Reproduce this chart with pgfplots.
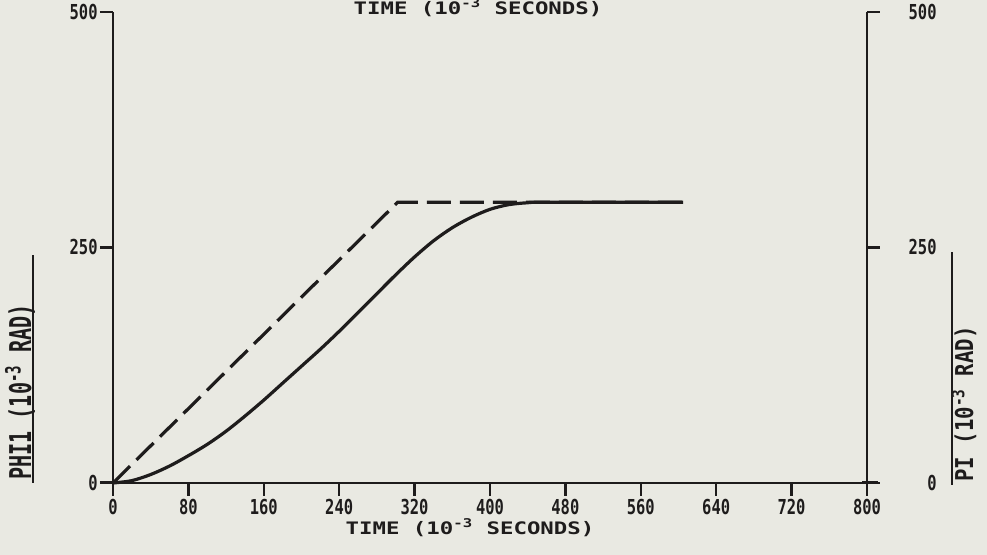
\documentclass[border=0pt]{standalone}
\usepackage{fontspec}
\setmainfont{DejaVu Sans}
\newfontfamily\tickf{DejaVu Sans Mono}[FakeStretch=0.75]
\newfontfamily\axf{DejaVu Sans Mono}[FakeStretch=1.3]
\newfontfamily\ylfA{DejaVu Sans Mono}[FakeStretch=0.67]
\newfontfamily\ylfB{DejaVu Sans Mono}[FakeStretch=0.84]
\usepackage{pgfplots}
\pgfplotsset{compat=1.18}
\definecolor{bg}{RGB}{233,233,226}
\definecolor{ink}{RGB}{30,28,28}
\begin{document}
\begin{tikzpicture}
\fill[bg] (-56.5pt,-36pt) rectangle (437pt,241.5pt);
\begin{axis}[
  at={(0pt,0pt)}, anchor=south west,
  scale only axis, width=377pt, height=235.5pt,
  xmin=0, xmax=800, ymin=0, ymax=500,
  axis x line*=bottom, axis y line*=left,
  axis line style={-, ink, line width=1.3pt},
  xtick={0,80,...,800}, ytick={0,250,500},
  tick align=outside, major tick length=6.5pt,
  tick style={ink, line width=1.2pt},
  /pgf/number format/assume math mode=true,
  tick label style={font=\tickf\bfseries\fontsize{10.3}{12}\selectfont, text=ink},
  xticklabel style={inner sep=1.5pt},
  yticklabel style={inner sep=1pt},
  clip=false,
]
\addplot[ink, line width=1.6pt, dash pattern=on 12pt off 4.5pt] coordinates {(0,0) (302,298) (605,298)};
\addplot[ink, line width=1.6pt, smooth] coordinates {
(0,0)(20,2.5)(40,9)(60,18)(80,29)(100,41)(120,55)(140,71)(160,88)(180,106)
(200,124)(220,142)(240,161)(260,181)(280,201)(300,221)(320,240)(340,257)
(360,271)(380,282)(400,290.5)(420,295.5)(440,297.5)(460,298)(605,298)};
\draw[ink, line width=1.5pt] (axis cs:795,0) -- (axis cs:812,0);
\draw[ink, line width=1.5pt] (axis cs:-14,0) -- (axis cs:5,0);
\end{axis}
\begin{axis}[
  at={(0pt,0pt)}, anchor=south west,
  scale only axis, width=377pt, height=235.5pt,
  xmin=0, xmax=800, ymin=0, ymax=500,
  axis y line*=right, axis x line=none,
  axis line style={-, ink, line width=1.3pt},
  ytick={0,250,500},
  tick align=outside, major tick length=6.5pt,
  tick style={ink, line width=1.2pt},
  /pgf/number format/assume math mode=true,
  tick label style={font=\tickf\bfseries\fontsize{10.3}{12}\selectfont, text=ink},
  yticklabel style={anchor=east, xshift=29.5pt, inner sep=1pt},
  clip=false,
]
\addplot[draw=none] coordinates {(0,0)};
\draw[ink, line width=1.3pt] (axis cs:800,-10) -- (axis cs:800,0);
\end{axis}
% axis titles
\node[anchor=base, text=ink, font=\axf\bfseries\fontsize{8.6}{10}\selectfont] at (178.5pt,-26pt) {TIME (10\textsuperscript{-3} SECONDS)};
\node[anchor=base, text=ink, font=\axf\bfseries\fontsize{8.6}{10}\selectfont] at (182.5pt,234pt) {TIME (10\textsuperscript{-3} SECONDS)};
\node[rotate=90, text=ink, font=\ylfA\bfseries\fontsize{15}{17}\selectfont, inner sep=0pt] at (-46.5pt,45.5pt) {PHI1 (10\textsuperscript{-3} RAD)};
\draw[ink, line width=1pt] (-40pt,0pt) -- (-40pt,114pt);
\node[rotate=90, text=ink, font=\ylfB\bfseries\fontsize{12.3}{14}\selectfont, inner sep=0pt] at (425.5pt,39.5pt) {PI (10\textsuperscript{-3} RAD)};
\draw[ink, line width=1pt] (419.5pt,-1pt) -- (419.5pt,115.5pt);
\pgfresetboundingbox
\useasboundingbox (-56.5pt,-36pt) rectangle (437pt,241.5pt);
\end{tikzpicture}
\end{document}
